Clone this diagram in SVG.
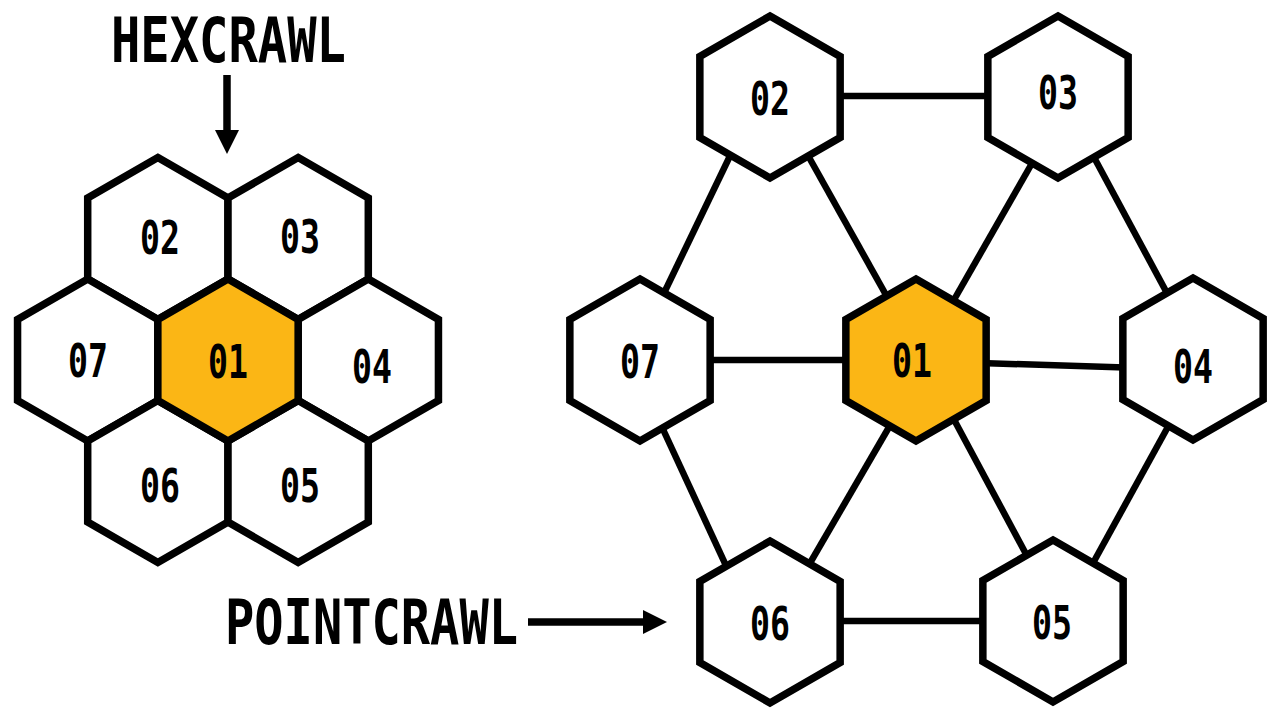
<svg xmlns="http://www.w3.org/2000/svg" xmlns:xlink="http://www.w3.org/1999/xlink" width="1280" height="720" viewBox="0 0 1280 720">
<style>
.hx{fill:#ffffff;stroke:#000;stroke-width:7.5;stroke-linejoin:miter}
.hot{fill:#FBB615}
.lbl{font-family:"DejaVu Sans Mono","Liberation Mono",monospace;font-weight:bold;font-size:46px;fill:#000;text-anchor:middle}
.ttl{font-family:"DejaVu Sans Mono","Liberation Mono",monospace;font-weight:bold;font-size:63px;fill:#000}
.edge{stroke:#000;stroke-width:6.5;fill:none}
.arr{stroke:#000;stroke-width:7.5;fill:none}
</style>
<defs>
<polygon id="hex" points="0,-81 70.15,-40.5 70.15,40.5 0,81 -70.15,40.5 -70.15,-40.5"/>
</defs>
<rect width="1280" height="720" fill="#fff"/>

<g id="title-hexcrawl">
<text class="ttl" x="111" y="62" textLength="235" lengthAdjust="spacingAndGlyphs">HEXCRAWL</text>
<line class="arr" x1="227" y1="75" x2="227" y2="132"/>
<polygon points="215,130 239,130 227,154" fill="#000"/>
</g>

<g id="title-pointcrawl">
<text class="ttl" x="225" y="644" textLength="293" lengthAdjust="spacingAndGlyphs">POINTCRAWL</text>
<line class="arr" x1="528" y1="622" x2="645" y2="622"/>
<polygon points="643,610 643,634 667,622" fill="#000"/>
</g>

<g id="hexcrawl">
<g id="hc-02"><use xlink:href="#hex" x="157.85" y="238.5" class="hx"/><text class="lbl" x="160" y="254" textLength="40" lengthAdjust="spacingAndGlyphs">02</text></g>
<g id="hc-03"><use xlink:href="#hex" x="298.15" y="238.5" class="hx"/><text class="lbl" x="300" y="253" textLength="40" lengthAdjust="spacingAndGlyphs">03</text></g>
<g id="hc-07"><use xlink:href="#hex" x="87.7" y="360" class="hx"/><text class="lbl" x="88" y="377" textLength="40" lengthAdjust="spacingAndGlyphs">07</text></g>
<g id="hc-04"><use xlink:href="#hex" x="368.3" y="360" class="hx"/><text class="lbl" x="372" y="383" textLength="40" lengthAdjust="spacingAndGlyphs">04</text></g>
<g id="hc-06"><use xlink:href="#hex" x="157.85" y="481.5" class="hx"/><text class="lbl" x="160" y="502" textLength="40" lengthAdjust="spacingAndGlyphs">06</text></g>
<g id="hc-05"><use xlink:href="#hex" x="298.15" y="481.5" class="hx"/><text class="lbl" x="300" y="502" textLength="40" lengthAdjust="spacingAndGlyphs">05</text></g>
<g id="hc-01"><use xlink:href="#hex" x="228" y="360" class="hx hot"/><text class="lbl" x="228" y="378" textLength="40" lengthAdjust="spacingAndGlyphs">01</text></g>
</g>

<g id="connectors">
<line class="edge" x1="840" y1="96" x2="990" y2="96"/>
<line class="edge" x1="710" y1="360" x2="850" y2="360"/>
<line class="edge" x1="840" y1="621" x2="985" y2="621"/>
<line class="edge" x1="980" y1="363" x2="1125" y2="367.5"/>
<line class="edge" x1="735" y1="145.5" x2="658.5" y2="304.5"/>
<line class="edge" x1="802.7" y1="146" x2="893.3" y2="308"/>
<line class="edge" x1="1039" y1="151" x2="947.6" y2="311"/>
<line class="edge" x1="1089" y1="148" x2="1175" y2="308"/>
<line class="edge" x1="658.7" y1="420" x2="732" y2="578.6"/>
<line class="edge" x1="895.5" y1="416" x2="802.5" y2="576"/>
<line class="edge" x1="951" y1="414" x2="1034" y2="569"/>
<line class="edge" x1="1175" y1="414" x2="1087" y2="574"/>
</g>

<g id="pc-02"><use xlink:href="#hex" x="770" y="97" class="hx"/><text class="lbl" x="770" y="115" textLength="40" lengthAdjust="spacingAndGlyphs">02</text></g>
<g id="pc-03"><use xlink:href="#hex" x="1058" y="97" class="hx"/><text class="lbl" x="1058" y="109" textLength="40" lengthAdjust="spacingAndGlyphs">03</text></g>
<g id="pc-07"><use xlink:href="#hex" x="640" y="360" class="hx"/><text class="lbl" x="640" y="378" textLength="40" lengthAdjust="spacingAndGlyphs">07</text></g>
<g id="pc-01"><use xlink:href="#hex" x="916" y="360" class="hx hot"/><text class="lbl" x="912" y="377" textLength="40" lengthAdjust="spacingAndGlyphs">01</text></g>
<g id="pc-04"><use xlink:href="#hex" x="1193" y="359" class="hx"/><text class="lbl" x="1193" y="383" textLength="40" lengthAdjust="spacingAndGlyphs">04</text></g>
<g id="pc-06"><use xlink:href="#hex" x="770" y="622" class="hx"/><text class="lbl" x="770" y="640" textLength="40" lengthAdjust="spacingAndGlyphs">06</text></g>
<g id="pc-05"><use xlink:href="#hex" x="1053" y="621" class="hx"/><text class="lbl" x="1052" y="639" textLength="40" lengthAdjust="spacingAndGlyphs">05</text></g>
</svg>
